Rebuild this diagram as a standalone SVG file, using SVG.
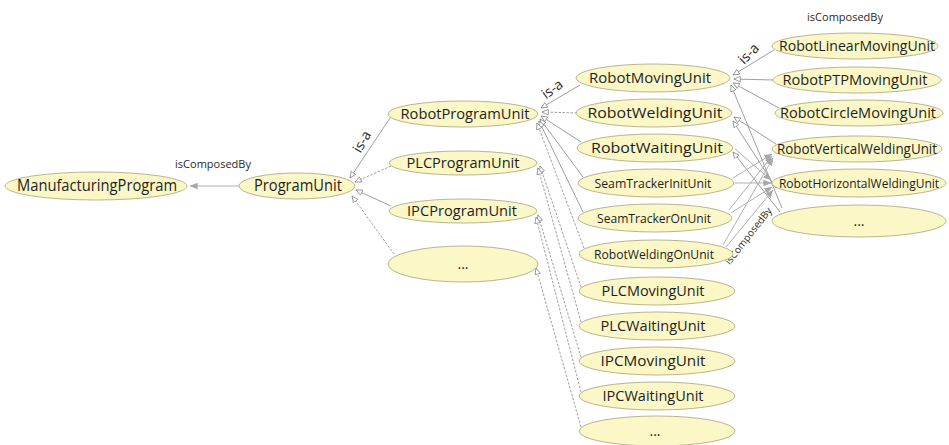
<svg xmlns="http://www.w3.org/2000/svg" width="949" height="445" viewBox="0 0 949 445">
<style>
.n ellipse{fill:#fbf7c6;stroke:#b9b68e;stroke-width:1}
.n text{font-family:"Open Sans","Noto Sans","Liberation Sans",sans-serif;font-size:14px;fill:#1e1e1e;text-anchor:middle}
.n text.s{font-size:12.5px}
.isa{stroke:#858585;stroke-width:0.8;fill:none;marker-end:url(#hollow)}
.isa.d{stroke-dasharray:2.5,1.5}
.comp{stroke:#b0b0b0;stroke-width:1;fill:none;marker-end:url(#filled)}
.lbl{font-family:"Open Sans","Noto Sans","Liberation Sans",sans-serif;fill:#2a2a2a}
</style>
<defs>
<marker id="hollow" viewBox="0 0 10 10" refX="9.5" refY="5" markerWidth="7" markerHeight="7" markerUnits="userSpaceOnUse" orient="auto"><path d="M0.5,1 L9.5,5 L0.5,9 z" fill="#fff" stroke="#7a7a7a" stroke-width="1"/></marker>
<marker id="filled" viewBox="0 0 10 10" refX="9.5" refY="5" markerWidth="8" markerHeight="8" markerUnits="userSpaceOnUse" orient="auto"><path d="M0,1 L10,5 L0,9 z" fill="#a8a8a8"/></marker>
</defs>
<rect width="949" height="445" fill="#fff"/>

<g id="connectors">
  <line class="comp" x1="239" y1="186" x2="190" y2="186"/>
  <line class="isa" x1="390" y1="118" x2="350" y2="178"/>
  <line class="isa d" x1="391" y1="166" x2="355" y2="182"/>
  <line class="isa" x1="391" y1="206" x2="356" y2="190"/>
  <line class="isa d" x1="394" y1="254" x2="352" y2="196"/>
  <line class="isa" x1="580" y1="85" x2="541" y2="108"/>
  <line class="isa d" x1="577" y1="113" x2="542" y2="112"/>
  <line class="isa" x1="581" y1="142" x2="541" y2="116"/>
  <line class="isa" x1="583" y1="177" x2="540" y2="119"/>
  <line class="isa" x1="583" y1="212" x2="539" y2="121"/>
  <line class="isa d" x1="584" y1="248" x2="537" y2="123"/>
  <line class="isa d" x1="581" y1="287" x2="540" y2="166"/>
  <line class="isa d" x1="581" y1="322" x2="538" y2="168"/>
  <line class="isa d" x1="581" y1="357" x2="538" y2="215"/>
  <line class="isa d" x1="581" y1="392" x2="536" y2="217"/>
  <line class="isa d" x1="581" y1="427" x2="536" y2="268"/>
  <line class="isa" x1="774" y1="50" x2="733" y2="75"/>
  <line class="isa" x1="773" y1="80" x2="734" y2="79"/>
  <line class="isa" x1="779" y1="108" x2="733" y2="83"/>
  <line class="isa" x1="776" y1="144" x2="734" y2="117"/>
  <line class="isa" x1="776" y1="188" x2="733" y2="121"/>
  <line class="isa" x1="782" y1="208" x2="731" y2="85"/>
  <line class="isa" x1="780" y1="212" x2="733" y2="152"/>
  <line class="comp" x1="735" y1="183" x2="771" y2="183"/>
  <line class="comp" x1="733" y1="178" x2="772" y2="154"/>
  <line class="comp" x1="729" y1="210" x2="772" y2="156"/>
  <line class="comp" x1="731" y1="213" x2="772" y2="187"/>
  <line class="comp" x1="723" y1="245" x2="773" y2="158"/>
  <line class="comp" x1="726" y1="247" x2="773" y2="190"/>
  <line class="comp" x1="735" y1="149" x2="771" y2="180"/>
  <text class="lbl" x="213" y="168" font-size="11" text-anchor="middle">isComposedBy</text>
  <text class="lbl" x="845" y="21" font-size="11" text-anchor="middle">isComposedBy</text>
  <text class="lbl" font-size="10" text-anchor="middle" transform="translate(751,238) rotate(-52)">isComposedBy</text>
  <text class="lbl" font-size="14" text-anchor="middle" transform="translate(366,144) rotate(-60)">is-a</text>
  <text class="lbl" font-size="14" text-anchor="middle" transform="translate(555,93) rotate(-36)">is-a</text>
  <text class="lbl" font-size="14" text-anchor="middle" transform="translate(752,57) rotate(-45)">is-a</text>
</g>

<g id="ManufacturingProgram" class="n"><ellipse cx="96" cy="186" rx="91" ry="14"/><text x="97" y="191" textLength="160" lengthAdjust="spacingAndGlyphs" style="font-size:16px">ManufacturingProgram</text></g>
<g id="ProgramUnit" class="n"><ellipse cx="297" cy="186" rx="58" ry="13"/><text x="298" y="191" textLength="88" lengthAdjust="spacingAndGlyphs" style="font-size:16px">ProgramUnit</text></g>

<g id="RobotProgramUnit" class="n"><ellipse cx="463" cy="114" rx="75" ry="13"/><text x="465" y="119" textLength="129" lengthAdjust="spacingAndGlyphs">RobotProgramUnit</text></g>
<g id="PLCProgramUnit" class="n"><ellipse cx="463" cy="163" rx="74" ry="12"/><text x="463" y="168" textLength="113" lengthAdjust="spacingAndGlyphs">PLCProgramUnit</text></g>
<g id="IPCProgramUnit" class="n"><ellipse cx="463" cy="211" rx="74" ry="12"/><text x="462" y="216" textLength="110" lengthAdjust="spacingAndGlyphs">IPCProgramUnit</text></g>
<g id="OtherProgramUnit" class="n"><ellipse cx="463" cy="264" rx="75" ry="18"/><text x="463" y="269">...</text></g>

<g id="RobotMovingUnit" class="n"><ellipse cx="653" cy="78" rx="77" ry="14"/><text x="650" y="83" textLength="122" lengthAdjust="spacingAndGlyphs">RobotMovingUnit</text></g>
<g id="RobotWeldingUnit" class="n"><ellipse cx="654" cy="113" rx="78" ry="14"/><text x="655" y="118" textLength="135" lengthAdjust="spacingAndGlyphs">RobotWeldingUnit</text></g>
<g id="RobotWaitingUnit" class="n"><ellipse cx="655" cy="148" rx="78" ry="14"/><text x="657" y="153" textLength="132" lengthAdjust="spacingAndGlyphs">RobotWaitingUnit</text></g>
<g id="SeamTrackerInitUnit" class="n"><ellipse cx="656" cy="183" rx="78" ry="14"/><text class="s" x="653" y="187.5" textLength="117" lengthAdjust="spacingAndGlyphs">SeamTrackerInitUnit</text></g>
<g id="SeamTrackerOnUnit" class="n"><ellipse cx="655" cy="218" rx="77" ry="14"/><text class="s" x="654" y="222.5" textLength="114" lengthAdjust="spacingAndGlyphs">SeamTrackerOnUnit</text></g>
<g id="RobotWeldingOnUnit" class="n"><ellipse cx="656" cy="254" rx="77" ry="14"/><text class="s" x="654" y="258.5" textLength="120" lengthAdjust="spacingAndGlyphs">RobotWeldingOnUnit</text></g>
<g id="PLCMovingUnit" class="n"><ellipse cx="657" cy="291" rx="78" ry="14"/><text x="653" y="296" textLength="103" lengthAdjust="spacingAndGlyphs">PLCMovingUnit</text></g>
<g id="PLCWaitingUnit" class="n"><ellipse cx="657" cy="326" rx="78" ry="14"/><text x="653" y="331" textLength="105" lengthAdjust="spacingAndGlyphs">PLCWaitingUnit</text></g>
<g id="IPCMovingUnit" class="n"><ellipse cx="657" cy="361" rx="78" ry="14"/><text x="653" y="366" textLength="105" lengthAdjust="spacingAndGlyphs">IPCMovingUnit</text></g>
<g id="IPCWaitingUnit" class="n"><ellipse cx="657" cy="396" rx="78" ry="14"/><text x="653" y="401" textLength="101" lengthAdjust="spacingAndGlyphs">IPCWaitingUnit</text></g>
<g id="OtherUnit" class="n"><ellipse cx="657" cy="431" rx="78" ry="15"/><text x="655" y="436">...</text></g>

<g id="RobotLinearMovingUnit" class="n"><ellipse cx="855" cy="46" rx="83" ry="13"/><text x="857" y="51" textLength="156" lengthAdjust="spacingAndGlyphs">RobotLinearMovingUnit</text></g>
<g id="RobotPTPMovingUnit" class="n"><ellipse cx="857" cy="80" rx="84" ry="13"/><text x="855" y="85" textLength="145" lengthAdjust="spacingAndGlyphs">RobotPTPMovingUnit</text></g>
<g id="RobotCircleMovingUnit" class="n"><ellipse cx="859" cy="113" rx="84" ry="13"/><text x="858" y="118" textLength="156" lengthAdjust="spacingAndGlyphs">RobotCircleMovingUnit</text></g>
<g id="RobotVerticalWeldingUnit" class="n"><ellipse cx="857" cy="149" rx="85" ry="13"/><text x="857" y="154" textLength="160" lengthAdjust="spacingAndGlyphs">RobotVerticalWeldingUnit</text></g>
<g id="RobotHorizontalWeldingUnit" class="n"><ellipse cx="859" cy="183" rx="87" ry="14"/><text x="859" y="187.5" style="font-size:12px">RobotHorizontalWeldingUnit</text></g>
<g id="OtherSubUnit" class="n"><ellipse cx="859" cy="221" rx="87" ry="16"/><text x="859" y="226">...</text></g>
</svg>
